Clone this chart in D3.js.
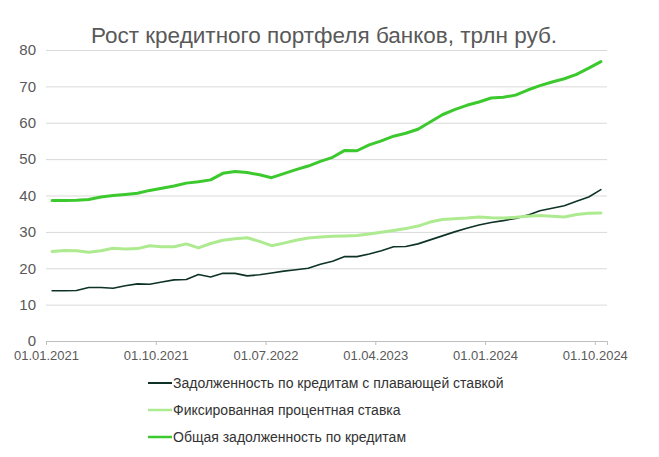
<!DOCTYPE html>
<html>
<head>
<meta charset="utf-8">
<script src="https://cdn.jsdelivr.net/npm/d3@7"></script>
<style>
  body { margin: 0; background: #fff; }
  text { font-family: "Liberation Sans", Arial, sans-serif; }
</style>
</head>
<body>
<div class="chart"></div>
<script>
var svgWidth = 659;
var svgHeight = 457;

// monthly values, 01.2021 - 10.2024, трлн руб.
var floatingRate = [13.8, 13.8, 13.9, 14.7, 14.7, 14.5, 15.2, 15.7, 15.6, 16.2, 16.8, 16.9,
  18.3, 17.6, 18.6, 18.6, 17.9, 18.2, 18.7, 19.2, 19.6, 20.0, 21.1, 21.9,
  23.2, 23.2, 23.9, 24.8, 25.9, 26.0, 26.7, 27.8, 28.9, 30.0, 31.0, 31.9,
  32.6, 33.1, 33.7, 34.6, 35.8, 36.5, 37.2, 38.4, 39.6, 41.6];
var fixedRate = [24.6, 24.9, 24.8, 24.4, 24.8, 25.5, 25.3, 25.4, 26.2, 25.9, 25.9, 26.7,
  25.6, 26.8, 27.7, 28.1, 28.4, 27.4, 26.2, 26.9, 27.7, 28.3, 28.6, 28.8,
  28.9, 29.0, 29.4, 29.9, 30.4, 30.9, 31.6, 32.7, 33.4, 33.6, 33.8, 34.1,
  33.9, 33.8, 34.0, 34.3, 34.5, 34.3, 34.1, 34.8, 35.1, 35.2];
var totalDebt = [38.6, 38.6, 38.7, 38.9, 39.6, 40.0, 40.3, 40.6, 41.4, 42.0, 42.6, 43.4,
  43.8, 44.3, 46.1, 46.6, 46.3, 45.7, 44.9, 46.0, 47.1, 48.1, 49.4, 50.5,
  52.4, 52.3, 53.9, 55.0, 56.3, 57.1, 58.2, 60.2, 62.2, 63.6, 64.8, 65.7,
  66.8, 67.0, 67.6, 69.0, 70.2, 71.2, 72.1, 73.3, 75.0, 76.8];

var tickLabels = ["01.01.2021", "01.10.2021", "01.07.2022", "01.04.2023", "01.01.2024", "01.10.2024"];
var tickMonths = [0, 9, 18, 27, 36, 45];
var yTicks = [0, 10, 20, 30, 40, 50, 60, 70, 80];

var series = [
  { name: "Задолженность по кредитам  с плавающей ставкой", values: floatingRate, color: "#0e3324", width: 1.6 },
  { name: "Фиксированная процентная ставка", values: fixedRate, color: "#aeea90", width: 3 },
  { name: "Общая задолженность по кредитам", values: totalDebt, color: "#3cc92e", width: 3 }
];

var margin = { left: 46, right: 52, top: 50, bottom: 116 };
var width = svgWidth - margin.left - margin.right;
var height = svgHeight - margin.top - margin.bottom;

var svg = d3.select(".chart")
  .append("svg")
  .attr("width", svgWidth)
  .attr("height", svgHeight);

var chartGroup = svg.append("g")
  .attr("transform", `translate(${margin.left}, ${margin.top})`);

var xScale = d3.scaleLinear().domain([0, 46]).range([0, width]);
var yScale = d3.scaleLinear().domain([0, 80]).range([height, 0]);

// gridlines
chartGroup.append("g")
  .call(d3.axisLeft(yScale).tickValues(yTicks).tickSize(-width).tickFormat(""))
  .call(g => g.select(".domain").remove())
  .call(g => g.selectAll("line").attr("stroke", "#d9d9d9").attr("stroke-width", 1));

// y labels
chartGroup.append("g")
  .call(d3.axisLeft(yScale).tickValues(yTicks).tickSize(0).tickPadding(10))
  .call(g => g.select(".domain").remove())
  .call(g => g.selectAll("text").attr("fill", "#595959").style("font-size", "15px")
    .style("font-family", "'Liberation Sans', Arial, sans-serif"));

// x axis
chartGroup.append("g")
  .attr("transform", `translate(0, ${height})`)
  .call(d3.axisBottom(xScale).tickValues(tickMonths).tickSize(4).tickPadding(6)
    .tickFormat((d, i) => tickLabels[i]))
  .call(g => g.select(".domain").attr("stroke", "#bfbfbf"))
  .call(g => g.selectAll("line").attr("stroke", "#bfbfbf"))
  .call(g => g.selectAll("text").attr("fill", "#595959").style("font-size", "13px")
    .style("font-family", "'Liberation Sans', Arial, sans-serif"));

// lines
var line = d3.line()
  .x((d, i) => xScale(i + 0.5))
  .y(d => yScale(d));

series.forEach(function (s) {
  chartGroup.append("path")
    .datum(s.values)
    .attr("fill", "none")
    .attr("stroke", s.color)
    .attr("stroke-width", s.width)
    .attr("stroke-linejoin", "round")
    .attr("stroke-linecap", "round")
    .attr("d", line);
});

// title
svg.append("text")
  .attr("x", 324)
  .attr("y", 43)
  .attr("text-anchor", "middle")
  .attr("fill", "#595959")
  .style("font-size", "22.5px")
  .text("Рост кредитного портфеля банков, трлн руб.");

// legend
var legend = svg.append("g").attr("transform", "translate(148, 383)");
series.forEach(function (s, i) {
  var row = legend.append("g").attr("transform", `translate(0, ${i * 27})`);
  row.append("line")
    .attr("x1", 0).attr("x2", 24)
    .attr("stroke", s.color)
    .attr("stroke-width", s.width === 3 ? 2.5 : 2);
  row.append("text")
    .attr("x", 25)
    .attr("dy", "0.35em")
    .attr("fill", "#333333")
    .style("font-size", "14px")
    .text(s.name);
});
</script>
</body>
</html>
